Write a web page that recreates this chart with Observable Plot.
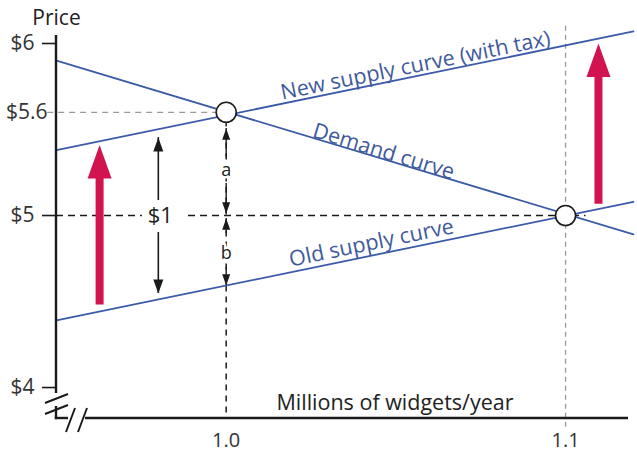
<!DOCTYPE html>
<html><head><meta charset="utf-8">
<script src="https://cdn.jsdelivr.net/npm/d3@7"></script>
<script src="https://cdn.jsdelivr.net/npm/@observablehq/plot@0.6"></script>
<style>
html,body{margin:0;padding:0;background:#fff;}
svg{display:block;}
</style>
</head><body><div id="chart"></div>
<script>
// ---------- data ----------
const quantityEnds = [0.95, 1.12];            // millions of widgets/year (line end points)
const demandPrices = [5.9, 4.89];
const oldSupplyPrices = [4.39, 5.08];
const newSupplyPrices = [5.38, 6.07];
const curveNames = ["Demand curve", "Old supply curve", "New supply curve (with tax)"];
const labelQ = [1.0464, 1.0428, 1.0558];
const labelP = [5.372, 4.84, 5.872];
const labelAngle = [16.9, -11.6, -11.5];

const eqQuantity = [1.0, 1.1];                 // equilibrium points
const eqPrice = [5.6, 5.0];

const yTickValues = [6, 5, 4];
const yDashTick = [5.6];
const xTickValues = [1.0, 1.1];

const shiftQ = [0.9627, 1.1097];               // red shift arrows
const shiftFrom = [4.48, 5.065];
const shiftTo = [5.41, 6.0];

const dollarQ = [0.98, 0.98];                  // "$1" double arrow
const dollarFrom = [5.087, 4.901];
const dollarTo = [5.453, 4.547];
const dollarLabel = ["$1"];
const dollarLabelQ = [0.9806];

const abQ = [1.0, 1.0, 1.0, 1.0];              // "a" and "b" arrows
const abFrom = [5.337, 5.186, 4.895, 4.698];
const abTo = [5.506, 5.012, 4.983, 4.593];
const abLabels = ["a", "b"];
const abLabelP = [5.262, 4.779];

const xTitle = "Millions of widgets/year";
const yTitle = "Price";

// ---------- styling ----------
const W = 637, H = 466;
const xDomain = [0.95, 1.1212];
const yDomain = [3.82, 6.25];
const BLUE = "#3b5ba8", LABEL_BLUE = "#3f5a9c", RED = "#d1134f", INK = "#1a1a1a";
const FONT = "Open Sans";

// ---------- tables ----------
const curvePrices = [demandPrices, oldSupplyPrices, newSupplyPrices];
const lineData = curveNames.flatMap((name, i) =>
  quantityEnds.map((q, j) => ({name, q, p: curvePrices[i][j]})));
const labelData = curveNames.map((name, i) => ({name, q: labelQ[i], p: labelP[i], a: labelAngle[i]}));
const eqData = eqQuantity.map((q, i) => ({q, p: eqPrice[i]}));
const redArrows = shiftQ.map((q, i) => ({q, from: shiftFrom[i], to: shiftTo[i]}));
const dollarArrows = dollarQ.map((q, i) => ({q, from: dollarFrom[i], to: dollarTo[i]}));
const abArrows = abQ.map((q, i) => ({q, from: abFrom[i], to: abTo[i]}));
const abLabelData = abLabels.map((t, i) => ({t, q: eqQuantity[0], p: abLabelP[i]}));

// arrowhead symbol: tip at the point, pointing up
const arrowHead = {
  draw(ctx, size) {
    const r = Math.sqrt(size / Math.PI);
    ctx.moveTo(0, 0);
    ctx.lineTo(r, r * 2.8);
    ctx.lineTo(-r, r * 2.8);
    ctx.closePath();
  }
};

// axis frame with break marks (decoration relative to the scale origin)
const axisFrame = (index, {x, y}) => {
  const ox = x(xDomain[0]), oy = y(yDomain[0]);
  const top = y(6) - 8;
  const g = d3.create("svg:g").attr("fill", "none").attr("stroke", INK).attr("stroke-linecap", "butt");
  const seg = (x1, y1, x2, y2, w) => g.append("line")
    .attr("x1", x1).attr("y1", y1).attr("x2", x2).attr("y2", y2).attr("stroke-width", w);
  seg(ox, top, ox, oy - 25, 2.4);
  seg(ox, oy - 12, ox, oy + 1.2, 2.4);
  seg(ox - 1.2, oy, ox + 12, oy, 2.4);
  seg(ox + 29, oy, W - 9, oy, 2.4);
  seg(ox - 11, oy - 15, ox + 12, oy - 24, 2);
  seg(ox - 11, oy - 4, ox + 12, oy - 13, 2);
  seg(ox + 10, oy + 14, ox + 19, oy - 10, 2);
  seg(ox + 22, oy + 14, ox + 31, oy - 10, 2);
  return g.node();
};

const chart = Plot.plot({
  width: W, height: H,
  marginLeft: 56, marginRight: 0, marginTop: 0, marginBottom: 48,
  x: {domain: xDomain},
  y: {domain: yDomain},
  style: {fontFamily: FONT, background: "#fff", color: INK, overflow: "visible"},
  marks: [
    // reference dashed lines
    Plot.ruleY(yDashTick, {x1: 0.9474, x2: eqQuantity[0], stroke: "#9a9a9a", strokeWidth: 1.3, strokeDasharray: "6,5"}),
    Plot.ruleY([{p: eqPrice[1], q1: xDomain[0], q2: 0.9753}, {p: eqPrice[1], q1: 0.9889, q2: 1.106}],
      {y: "p", x1: "q1", x2: "q2", stroke: INK, strokeWidth: 1.5, strokeDasharray: "7,5"}),
    Plot.ruleX([eqQuantity[0]], {y1: 5.55, y2: yDomain[0], stroke: INK, strokeWidth: 1.5, strokeDasharray: "6,5"}),
    Plot.ruleX([eqQuantity[1]], {y1: 6.1, y2: 3.76, stroke: "#9a9a9a", strokeWidth: 1.3, strokeDasharray: "5,4"}),

    // curves
    Plot.line(lineData, {x: "q", y: "p", z: "name", stroke: BLUE, strokeWidth: 1.8}),
    Plot.text(labelData, {x: "q", y: "p", text: "name", rotate: "a", fill: LABEL_BLUE,
      fontSize: 21.5, textAnchor: "middle", lineAnchor: "middle"}),

    // red shift arrows
    Plot.ruleX(redArrows, {x: "q", y1: "to", y2: "from", stroke: RED, strokeWidth: 8, insetTop: 22}),
    Plot.dot(redArrows, {x: "q", y: "to", symbol: arrowHead, r: 12, fill: RED, stroke: "none"}),

    // $1 arrows
    Plot.ruleX(dollarArrows, {x: "q", y1: "from", y2: "to", stroke: INK, strokeWidth: 1.6}),
    Plot.dot(dollarArrows, {x: "q", y: "to", symbol: arrowHead, r: 5, fill: INK, stroke: "none",
      rotate: d => d.to > d.from ? 0 : 180}),
    Plot.text(dollarLabel, {x: dollarLabelQ, y: [eqPrice[1]], text: d => d, fontSize: 22, fill: "#222",
      textAnchor: "middle", lineAnchor: "middle"}),

    // a / b arrows
    Plot.ruleX(abArrows, {x: "q", y1: "from", y2: "to", stroke: INK, strokeWidth: 1.4}),
    Plot.dot(abArrows, {x: "q", y: "to", symbol: arrowHead, r: 4, fill: INK, stroke: "none",
      rotate: d => d.to > d.from ? 0 : 180}),
    Plot.text(abLabelData, {x: "q", y: "p", text: "t", fontSize: 18,
      fill: "#222", stroke: "white", strokeWidth: 5, paintOrder: "stroke",
      textAnchor: "middle", lineAnchor: "middle"}),

    // equilibrium circles
    Plot.dot(eqData, {x: "q", y: "p", r: 10, fill: "white", stroke: INK, strokeWidth: 1.6}),

    // axes
    axisFrame,
    Plot.axisY(yTickValues, {anchor: "left", tickSize: 14, tickPadding: 8, strokeWidth: 1.6,
      tickFormat: d => "$" + d, fontSize: 21, fill: "#333", label: null}),
    Plot.axisY(yDashTick, {anchor: "left", tickSize: 0, tickPadding: 9,
      tickFormat: d => "$" + d, fontSize: 21, fill: "#333", label: null}),
    Plot.axisX(xTickValues, {anchor: "bottom", tickSize: 0, tickPadding: 14,
      tickFormat: d3.format(".1f"), fontSize: 20, fill: "#333", label: null}),
    Plot.text([xTitle], {frameAnchor: "bottom", dx: 48, dy: -15, fontSize: 21.5, fill: "#222",
      textAnchor: "middle", lineAnchor: "middle"}),
    Plot.text([yTitle], {frameAnchor: "top-left", dx: 0, dy: 18, fontSize: 21, fill: "#222",
      textAnchor: "middle", lineAnchor: "middle"})
  ]
});
document.getElementById("chart").append(chart);
</script>
</body></html>
